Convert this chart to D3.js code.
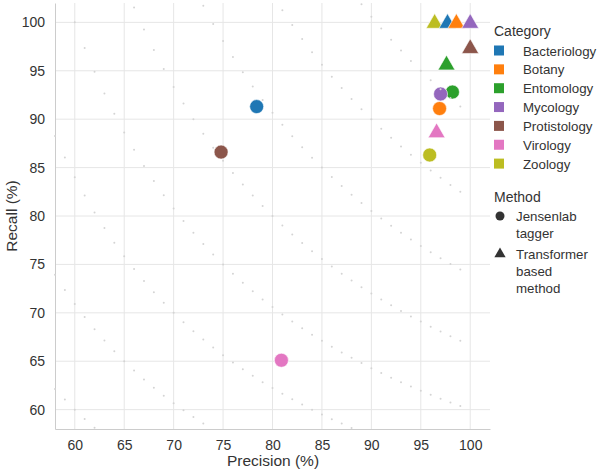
<!DOCTYPE html>
<html><head><meta charset="utf-8">
<script src="https://cdn.jsdelivr.net/npm/d3@7"></script>
<style>body{margin:0;background:#fff;} text{font-family:"Liberation Sans",Arial,sans-serif;}</style>
</head><body><svg id="c" width="600" height="472"></svg>
<script>
const categories = ["Bacteriology","Botany","Entomology","Mycology","Protistology","Virology","Zoology"];
const colors = ["#1f77b4","#ff7f0e","#2ca02c","#9467bd","#8c564b","#e377c2","#bcbd22"];
const methods = ["Jensenlab tagger","Transformer based method"];
// Jensenlab tagger (circles)
const taggerPrecision = [78.4, 96.9, 98.2, 97.0, 74.8, 80.9, 95.9];
const taggerRecall    = [91.3, 91.1, 92.8, 92.6, 86.6, 65.1, 86.3];
// Transformer based method (triangles)
const transPrecision = [97.7, 98.6, 97.6, 100.0, 100.0, 96.6, 96.4];
const transRecall    = [100.0, 100.0, 95.7, 100.0, 97.4, 88.7, 100.0];
const transDrawOrder = ["Zoology","Bacteriology","Botany","Mycology","Protistology","Entomology","Virology"];
const xTicks = [60,65,70,75,80,85,90,95,100];
const yTicks = [60,65,70,75,80,85,90,95,100];
const f1Levels = [60,65,70,75,80,85,90,95];
const precisionSteps = d3.range(58, 100);

const svg = d3.select("#c");
const m = {l:55, r:490, t:3, b:429};
const x = d3.scaleLinear().domain([58,102]).range([m.l, m.r]);
const y = d3.scaleLinear().domain([58,102]).range([m.b, m.t]);
const col = d3.scaleOrdinal().domain(categories).range(colors);

// grid
const g = svg.append("g");
g.selectAll(".gx").data(xTicks).join("line").attr("x1",d=>x(d)).attr("x2",d=>x(d))
 .attr("y1",m.t).attr("y2",m.b).attr("stroke","#e6e6e6").attr("stroke-width",1);
g.selectAll(".gy").data(yTicks).join("line").attr("y1",d=>y(d)).attr("y2",d=>y(d))
 .attr("x1",m.l).attr("x2",m.r).attr("stroke","#e6e6e6").attr("stroke-width",1);

// axes
const xa = svg.append("g").attr("transform",`translate(0,${m.b})`)
  .call(d3.axisBottom(x).tickValues(xTicks).tickSize(0).tickPadding(11));
const ya = svg.append("g").attr("transform",`translate(${m.l},0)`)
  .call(d3.axisLeft(y).tickValues(yTicks).tickSize(0).tickPadding(10));
[xa,ya].forEach(a=>{
  a.select(".domain").attr("stroke","#cccccc");
  a.selectAll("text").attr("font-size",14).attr("fill","#333").attr("font-family","Liberation Sans, Arial, sans-serif");
});

// markers
const pts = svg.append("g");
const circ = categories.map((c,i)=>({c, p:taggerPrecision[i], r:taggerRecall[i]}));
pts.selectAll(".dot").data(circ).join("circle")
  .attr("cx",d=>x(d.p)).attr("cy",d=>y(d.r)).attr("r",7)
  .attr("fill",d=>col(d.c)).attr("stroke","#fff").attr("stroke-width",0.6);
const tri = transDrawOrder.map(c=>{const i=categories.indexOf(c);return {c,p:transPrecision[i],r:transRecall[i]};});
const triPath = d3.symbol().type(d3.symbolTriangle).size(125);
pts.selectAll(".tri").data(tri).join("path")
  .attr("d",triPath).attr("transform",d=>`translate(${x(d.p)},${y(d.r)+1})`)
  .attr("fill",d=>col(d.c)).attr("stroke","#fff").attr("stroke-width",0.6);

// iso-F1 guide dots (drawn on top)
const iso = [];
f1Levels.forEach(f=>precisionSteps.forEach(p=>{
  if (2*p - f <= 0) return;
  const r = f*p/(2*p-f);
  if (r>=58 && r<=102) iso.push({p,r});
}));
svg.append("g").selectAll("circle").data(iso).join("circle")
  .attr("cx",d=>x(d.p)).attr("cy",d=>y(d.r)).attr("r",1)
  .attr("fill","#d4d4d4");

// axis labels
svg.append("text").attr("x",(m.l+m.r)/2+0.5).attr("y",466).attr("text-anchor","middle")
  .attr("font-size",15.5).attr("fill","#333").text("Precision (%)");
svg.append("text").attr("transform",`translate(17,${(m.t+m.b)/2}) rotate(-90)`).attr("text-anchor","middle")
  .attr("font-size",15.5).attr("fill","#333").text("Recall (%)");

// legend
const L = svg.append("g");
L.append("text").attr("x",494).attr("y",36).attr("font-size",14).attr("fill","#333").text("Category");
categories.forEach((c,i)=>{
  const yy = 50.5 + i*18.85;
  L.append("rect").attr("x",494).attr("y",yy-5).attr("width",10).attr("height",10).attr("fill",col(c));
  L.append("text").attr("x",523).attr("y",yy+5).attr("font-size",13.3).attr("fill","#333").text(c);
});
L.append("text").attr("x",494).attr("y",202).attr("font-size",14).attr("fill","#333").text("Method");
L.append("circle").attr("cx",500).attr("cy",216).attr("r",4.5).attr("fill","#333");
L.append("text").attr("x",516).attr("y",221).attr("font-size",13.3).attr("fill","#333").text("Jensenlab");
L.append("text").attr("x",516).attr("y",238).attr("font-size",13.3).attr("fill","#333").text("tagger");
L.append("path").attr("d",d3.symbol().type(d3.symbolTriangle).size(55)).attr("transform","translate(500,254)").attr("fill","#333");
["Transformer","based","method"].forEach((t,i)=>
  L.append("text").attr("x",516).attr("y",259+i*16.8).attr("font-size",13.3).attr("fill","#333").text(t));
</script></body></html>
